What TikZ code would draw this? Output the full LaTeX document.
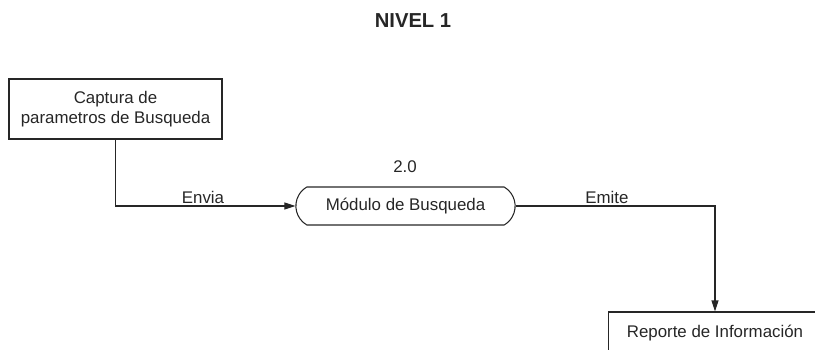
\documentclass[tikz,border=0pt]{standalone}
\usepackage{fontspec}
\setmainfont{Liberation Sans}
\usepackage{tikz}
\usetikzlibrary{positioning}
\usetikzlibrary{shapes.misc}
\usetikzlibrary{arrows.meta}

\tikzset{
  entidad/.style={draw, rectangle, align=center, inner sep=2pt,
    font=\fontsize{9.6}{11.5}\selectfont},
  proceso/.style={draw, rounded rectangle, rounded rectangle arc length=120,
    minimum width=4.62cm, minimum height=0.76cm,
    font=\fontsize{9.6}{11.5}\selectfont},
  flujo/.style={-{Triangle[length=2.2mm,width=1.4mm]}, line width=0.6pt},
  etiqueta/.style={font=\fontsize{9.6}{11.5}\selectfont}
}

\begin{document}
\begin{tikzpicture}[x=0.02cm,y=-0.02cm,line width=0.6pt,color=black!85]
  \useasboundingbox (0,0) rectangle (815,350);
  \node[font=\fontsize{11.5}{13}\bfseries] (titulo) at (413,21) {NIVEL 1};
  \node[entidad, minimum width=4.26cm, minimum height=1.2cm] (captura) at (115.5,109) {Captura de\\parametros de Busqueda};
  \node[proceso] (modulo) at (405.5,206) {Módulo de Busqueda};
  \node[etiqueta] (num) at (405,167) {2.0};
  \node[entidad, minimum width=4.28cm, minimum height=0.84cm] (reporte) at (715,333) {Reporte de Información};
  \node[etiqueta] (envia) at (203,197) {Envia};
  \node[etiqueta] (emite) at (607,197) {Emite};
  \draw[flujo] (captura.south) |- (modulo.west);
  \draw[flujo] (modulo.east) -| (reporte.north);
\end{tikzpicture}
\end{document}
